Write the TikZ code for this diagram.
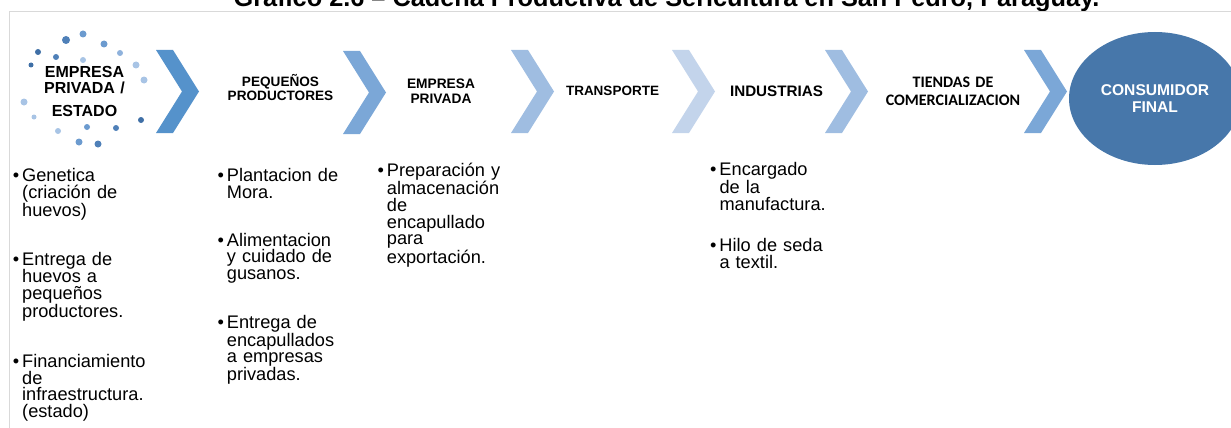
\documentclass[tikz,border=0pt]{standalone}
\usepackage{fontspec}
\setmainfont{Liberation Sans}
\newfontfamily\calibrifont{Carlito}
\usetikzlibrary{shapes.geometric}
\definecolor{chA}{HTML}{5592CB}
\definecolor{chB}{HTML}{7BA7D7}
\definecolor{chC}{HTML}{9FBDE1}
\definecolor{chD}{HTML}{C3D4EB}
\definecolor{ellC}{HTML}{4777AA}
\definecolor{dotA}{HTML}{3F6FA6}
\definecolor{dotB}{HTML}{4F80B8}
\definecolor{dotC}{HTML}{6C9BCF}
\definecolor{dotD}{HTML}{8FB2DC}
\definecolor{dotE}{HTML}{A8C4E5}
\definecolor{framegray}{HTML}{D9D9D9}
\setlength{\lineskiplimit}{-30pt}
\begin{document}
\begin{tikzpicture}[x=1pt,y=-1pt,
  hdr/.style={anchor=base, inner sep=0pt, align=center, text width=150pt},
  bul/.style={anchor=base west, inner sep=0pt, align=left, text width=170pt,
    font=\fontsize{18.2}{16.7}\selectfont}]
\useasboundingbox (0,0) rectangle (1231,428);
\clip (0,0) rectangle (1231,428);
% title (partly cut off at top)
\node[anchor=base, inner sep=0pt, font=\bfseries\fontsize{25.3}{25}\selectfont] (title) at (666.5,6.5)
  {Grafico 2.6 – Cadena Productiva de Sericultura en San Pedro, Paraguay.};
% frame
\draw[framegray, line width=1pt] (9,440) -- (9,12) -- (1240,12);
% dots ring
\foreach \px/\py/\r/\c in {83/34/3.5/dotC, 66/40/4/dotB, 104/44/3.5/dotC, 38/52/3/dotA,
  56/57/3/dotB, 83/60/3/dotE, 120/53/3/dotD, 31/65/2.5/dotA, 136/65/3.5/dotE,
  144/80/3.5/dotE, 24/102/3.5/dotE, 34/117/2.5/dotE, 141/120/3/dotA, 58/131/3/dotE,
  87/127/3/dotC, 116/128/3/dotB, 79/142/3.5/dotC, 98/144/3.5/dotB}
  \fill[\c] (\px,\py) circle[radius=\r];
% chevrons
\foreach \cx/\ct/\c in {156/50/chA, 343/51/chB, 511/50/chC, 672/50/chD, 825/50/chC, 1024/50/chB}
  \fill[\c] (\cx,\ct) -- (\cx+17,\ct) -- (\cx+43,\ct+41.5) -- (\cx+17,\ct+83)
    -- (\cx,\ct+83) -- (\cx+26,\ct+41.5) -- cycle;
% headers
\node[hdr, font=\bfseries\fontsize{16}{16}\selectfont] (h1) at (84.5,77.3) {EMPRESA\\PRIVADA /\\[7.3pt]ESTADO};
\node[hdr, font=\bfseries\fontsize{13.6}{14.7}\selectfont] (h2) at (280.5,86) {PEQUEÑOS\\PRODUCTORES};
\node[hdr, font=\bfseries\fontsize{13.75}{14.6}\selectfont] (h3) at (441,88.7) {EMPRESA\\PRIVADA};
\node[hdr, font=\bfseries\fontsize{13.5}{14}\selectfont] (h4) at (612.5,95.7) {TRANSPORTE};
\node[hdr, font=\bfseries\fontsize{15.2}{16}\selectfont] (h5) at (776.5,96.7) {INDUSTRIAS};
\node[hdr, font=\calibrifont\bfseries\fontsize{16}{18}\selectfont] (h6) at (953,87) {TIENDAS DE\\COMERCIALIZACION};
\node[ellipse, fill=ellC, minimum width=172pt, minimum height=133pt, inner sep=0pt,
  align=center, text=white, font=\bfseries\fontsize{15.6}{16.5}\selectfont] (cons) at (1155,98.5)
  {CONSUMIDOR\\FINAL};
% bullet texts
\node[bul] (g1) at (22,181.7) {\llap{•\hspace{3pt}}Genetica\\(criación de\\huevos)};
\node[bul] (g2) at (22,265) {\llap{•\hspace{3pt}}Entrega de\\huevos a\\pequeños\\productores.};
\node[bul] (g3) at (22,367.5) {\llap{•\hspace{3pt}}Financiamiento\\de\\infraestructura.\\(estado)};
\node[bul] (p1) at (226.7,181.7) {\llap{•\hspace{3pt}}Plantacion de\\Mora.};
\node[bul] (p2) at (226.7,246) {\llap{•\hspace{3pt}}Alimentacion\\y cuidado de\\gusanos.};
\node[bul] (p3) at (226.7,328.3) {\llap{•\hspace{3pt}}Entrega de\\encapullados\\a empresas\\privadas.};
\node[bul] (e1) at (386.7,176.7) {\llap{•\hspace{3pt}}Preparación y\\almacenación\\de\\encapullado\\para\\exportación.};
\node[bul] (i1) at (719.3,175.7) {\llap{•\hspace{3pt}}Encargado\\de la\\manufactura.};
\node[bul] (i2) at (719.3,251.7) {\llap{•\hspace{3pt}}Hilo de seda\\a textil.};
\end{tikzpicture}
\end{document}
